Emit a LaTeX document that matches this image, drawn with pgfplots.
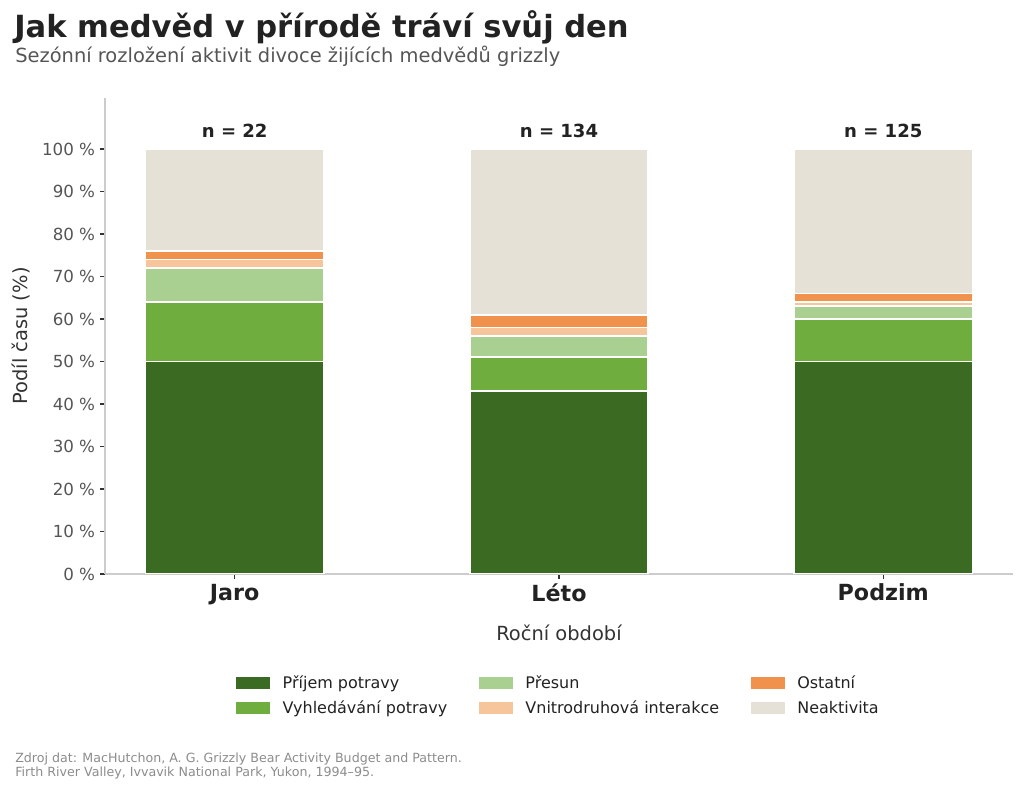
\documentclass[border=0pt]{standalone}
\usepackage{fontspec}
\setmainfont{DejaVu Sans}
\usepackage{pgfplots}
\pgfplotsset{compat=1.18}
\definecolor{cFood}{HTML}{3B6B22}
\definecolor{cSearch}{HTML}{6FAD3F}
\definecolor{cMove}{HTML}{A9CF91}
\definecolor{cIntra}{HTML}{F7C59B}
\definecolor{cOther}{HTML}{F0914C}
\definecolor{cIdle}{HTML}{E5E1D6}
\definecolor{cTitle}{HTML}{222222}
\definecolor{cSub}{HTML}{555555}
\definecolor{cLab}{HTML}{333333}
\definecolor{cSrc}{HTML}{8C8C8C}
\definecolor{cSpine}{HTML}{CCCCCC}
\begin{document}
\begin{tikzpicture}
\path[use as bounding box] (0,0) rectangle (737.28pt,568.8pt);
\node[anchor=base west, inner sep=0, font=\fontsize{22}{26}\selectfont\bfseries, text=cTitle] at (10.08pt,541.44pt) {Jak medvěd v přírodě tráví svůj den};
\node[anchor=base west, inner sep=0, font=\fontsize{14}{17}\selectfont, text=cSub] at (10.8pt,523.44pt) {Sezónní rozložení aktivit divoce žijících medvědů grizzly};
\node[anchor=base west, inner sep=0, font=\fontsize{9.1}{11}\selectfont, text=cSrc] at (10.8pt,19.8pt) {Zdroj dat: MacHutchon, A. G. Grizzly Bear Activity Budget and Pattern.};
\node[anchor=base west, inner sep=0, font=\fontsize{9.1}{11}\selectfont, text=cSrc] at (10.8pt,9.7pt) {Firth River Valley, Ivvavik National Park, Yukon, 1994–95.};
\begin{axis}[
  at={(75.6pt,155.52pt)}, anchor=south west,
  scale only axis, width=653.76pt, height=342.72pt,
  ybar stacked, bar width=0.55,
  xmin=-0.4, xmax=2.4, ymin=0, ymax=112,
  axis x line*=bottom, axis y line*=left,
  axis line style={-, draw=cSpine, line width=0.9pt},
  xtick={0,1,2}, xticklabels={Jaro,Léto,Podzim},
  ytick={0,10,...,100},
  yticklabels={0 \%,10 \%,20 \%,30 \%,40 \%,50 \%,60 \%,70 \%,80 \%,90 \%,100 \%},
  tick align=outside, major tick length=3.6pt,
  tick style={draw=cLab, line width=0.8pt},
  x tick label style={font=\fontsize{16}{19}\selectfont\bfseries, text=cTitle},
  y tick label style={font=\fontsize{12}{14}\selectfont, text=cSub},
  xlabel={Roční období}, ylabel={Podíl času (\%)},
  xlabel style={at={(axis description cs:0.5,-0.1387)}, anchor=base, font=\fontsize{14}{17}\selectfont, text=cLab},
  ylabel style={at={(axis description cs:-0.0925,0.5)}, anchor=center, font=\fontsize{14}{17}\selectfont, text=cLab},
  legend columns=3,
  legend cell align=left,
  legend style={at={(0.5,-0.202)}, anchor=north, draw=none, fill=none,
    font=\fontsize{11.5}{14}\selectfont, text=cTitle,
    /tikz/every odd column/.append style={column sep=7pt},
    /tikz/every even column/.append style={column sep=21pt}, row sep=3pt},
  every axis plot/.append style={draw=white, line width=1.3pt},
]
\addplot[fill=cFood, forget plot] coordinates {(0,50) (1,43) (2,50)};
\addplot[fill=cSearch, forget plot] coordinates {(0,14) (1,8) (2,10)};
\addplot[fill=cMove, forget plot] coordinates {(0,8) (1,5) (2,3)};
\addplot[fill=cIntra, forget plot] coordinates {(0,2) (1,2) (2,1)};
\addplot[fill=cOther, forget plot] coordinates {(0,2) (1,3) (2,2)};
\addplot[fill=cIdle, forget plot] coordinates {(0,24) (1,39) (2,34)};
\addlegendimage{legend image code/.code={\fill[cFood] (0pt,-3.6pt) rectangle (23pt,3.6pt);}}
\addlegendentry{Příjem potravy}
\addlegendimage{legend image code/.code={\fill[cMove] (0pt,-3.6pt) rectangle (23pt,3.6pt);}}
\addlegendentry{Přesun}
\addlegendimage{legend image code/.code={\fill[cOther] (0pt,-3.6pt) rectangle (23pt,3.6pt);}}
\addlegendentry{Ostatní}
\addlegendimage{legend image code/.code={\fill[cSearch] (0pt,-3.6pt) rectangle (23pt,3.6pt);}}
\addlegendentry{Vyhledávání potravy}
\addlegendimage{legend image code/.code={\fill[cIntra] (0pt,-3.6pt) rectangle (23pt,3.6pt);}}
\addlegendentry{Vnitrodruhová interakce}
\addlegendimage{legend image code/.code={\fill[cIdle] (0pt,-3.6pt) rectangle (23pt,3.6pt);}}
\addlegendentry{Neaktivita}
\node[anchor=base, font=\fontsize{13}{15}\selectfont\bfseries, text=cTitle] at (axis cs:0,102.6) {n = 22};
\node[anchor=base, font=\fontsize{13}{15}\selectfont\bfseries, text=cTitle] at (axis cs:1,102.6) {n = 134};
\node[anchor=base, font=\fontsize{13}{15}\selectfont\bfseries, text=cTitle] at (axis cs:2,102.6) {n = 125};
\end{axis}
\end{tikzpicture}
\end{document}
